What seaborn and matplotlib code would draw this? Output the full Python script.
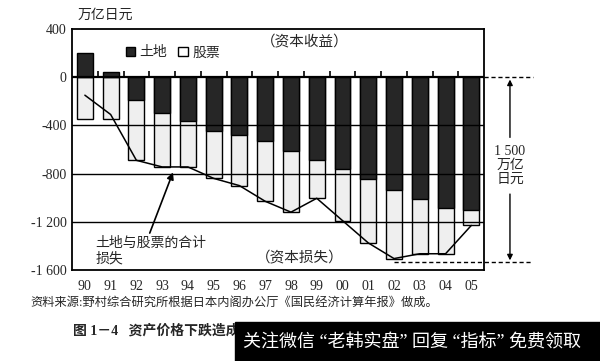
import numpy as np
import pandas as pd
import matplotlib
matplotlib.use('Agg')
import matplotlib.pyplot as plt
import seaborn as sns
from matplotlib.patches import Patch

sns.set_style('white')
plt.rcParams['font.family'] = ['Liberation Serif', 'Noto Sans CJK SC']

# data (万亿日元)
years = ['90', '91', '92', '93', '94', '95', '96', '97', '98', '99', '00', '01', '02', '03', '04', '05']
land = [200, 40, -190, -300, -365, -450, -480, -530, -610, -690, -760, -845, -940, -1015, -1085, -1105]
stocks = [-350, -350, -500, -445, -380, -390, -420, -500, -510, -315, -430, -530, -565, -450, -380, -125]
y_ticks = [400, 0, -400, -800, -1200, -1600]
y_labels = ['400', '0', '-400', '-800', '-1 200', '-1 600']

df = pd.DataFrame({'year': years, 'land': land, 'stocks': stocks})
df['bottom'] = df['land'].clip(upper=0) + df['stocks']
df['total'] = df['land'] + df['stocks']

fig = plt.figure(figsize=(6, 3.61), dpi=100)
ax = fig.add_axes([0.12, 0.252, 0.687, 0.668])

dark = '#262626'
light = '#efefef'

# light bars (股票) from 0 down to the bottom, dark land bars on top
sns.barplot(data=df, x='year', y='bottom', color=light, edgecolor='black',
            linewidth=1.0, width=0.62, saturation=1, ax=ax, zorder=2)
sns.barplot(data=df, x='year', y='land', color=dark, edgecolor='black',
            linewidth=1.0, width=0.62, saturation=1, ax=ax, zorder=3)

# grid lines
for v in [-400, -800, -1200]:
    ax.axhline(v, color='black', lw=1.0, zorder=4)
ax.axhline(0, color='black', lw=1.6, zorder=5)
x = np.arange(len(years))
ax.plot(x[:-1] + 0.5, np.zeros(len(years) - 1), ls='none', marker=2,
        ms=4, mew=1.2, color='black', zorder=5)

# combined loss line
sns.lineplot(x=x, y=df['total'].values, color='black', lw=1.1, ax=ax, zorder=6)

ax.set_xlim(-0.5, len(years) - 0.5)
ax.set_ylim(-1600, 400)
ax.set_yticks(y_ticks)
ax.set_yticklabels(y_labels, fontsize=10)
ax.set_xticks(x)
ax.set_xticklabels(years, fontsize=10)
ax.set_xlabel('')
ax.set_ylabel('')
ax.tick_params(axis='both', length=0)
ax.tick_params(axis='y', pad=4)
ax.tick_params(axis='x', pad=7)
for s in ax.spines.values():
    s.set_color('black')
    s.set_linewidth(1.3)

# legend
handles = [Patch(facecolor=dark, edgecolor='black', label='土地'),
           Patch(facecolor='white', edgecolor='black', label='股票')]
ax.legend(handles=handles, loc='center left', bbox_to_anchor=(0.1, 0.9), ncol=2,
          frameon=False, fontsize=10, handlelength=0.7, handleheight=0.7,
          handletextpad=0.3, columnspacing=0.8)

ax.text(0.565, 0.946, '（资本收益）', transform=ax.transAxes, ha='center', va='center', fontsize=10.5)
ax.text(0.553, 0.05, '（资本损失）', transform=ax.transAxes, ha='center', va='center', fontsize=10.5)

ax.annotate('土地与股票的合计\n损失', xy=(3.42, -790), xytext=(0.4, -1440),
            ha='left', va='center', fontsize=10, linespacing=1.2,
            arrowprops=dict(arrowstyle='-|>', color='black', lw=1.2,
                            shrinkA=0, shrinkB=0, mutation_scale=10,
                            relpos=(0.48, 1.0)))

# 1 500 bracket on the right
ax.plot([15.5, 17.4], [0, 0], ls=(0, (3, 2)), color='black', lw=1.0, clip_on=False)
ax.plot([12.0, 17.3], [-1530, -1530], ls=(0, (3, 2)), color='black', lw=1.0, clip_on=False)
ax.annotate('', xy=(16.5, -20), xytext=(16.5, -500), annotation_clip=False,
            arrowprops=dict(arrowstyle='-|>', color='black', lw=1.0, mutation_scale=8,
                            shrinkA=0, shrinkB=0))
ax.annotate('', xy=(16.5, -1520), xytext=(16.5, -970), annotation_clip=False,
            arrowprops=dict(arrowstyle='-|>', color='black', lw=1.0, mutation_scale=8,
                            shrinkA=0, shrinkB=0))
ax.text(16.5, -735, '1 500\n万亿\n日元', ha='center', va='center', fontsize=10,
        linespacing=1.1, clip_on=False)

fig.text(78 / 600, 1 - 15 / 361, '万亿日元', ha='left', va='center', fontsize=10)

fig.text(30 / 600, 1 - 303 / 361,
         '资料来源:野村综合研究所根据日本内阁办公厅《国民经济计算年报》做成。',
         ha='left', va='center', fontsize=8.8)
fig.text(73 / 600, 1 - 331 / 361, '图 1－4   资产价格下跌造成了 1 500 万亿日元的财富损失',
         ha='left', va='center', fontsize=10, fontweight='bold')

# watermark strip
fig.patches.append(plt.Rectangle((235 / 600, 0), 365 / 600, 39 / 361,
                                 transform=fig.transFigure, color='black', zorder=10))
fig.text(243 / 600, 1 - 343 / 361, '关注微信 “老韩实盘” 回复 “指标” 免费领取',
         ha='left', va='center', fontsize=13, color='white', zorder=11)

fig.savefig('out.png', dpi=100)
